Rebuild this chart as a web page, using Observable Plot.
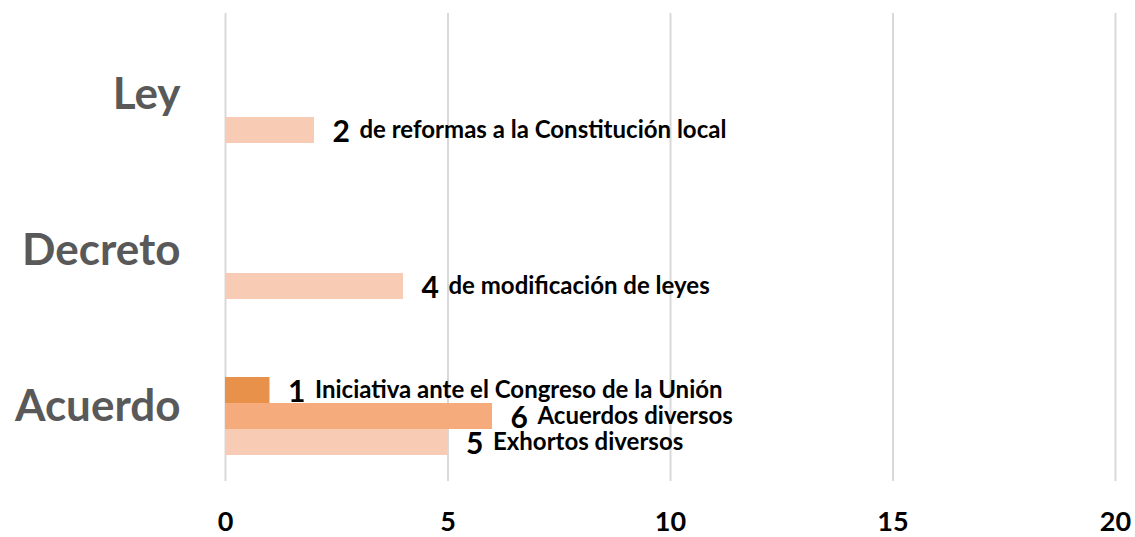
<!DOCTYPE html>
<html><head><meta charset="utf-8">
<script src="https://cdn.jsdelivr.net/npm/d3@7"></script>
<script src="https://cdn.jsdelivr.net/npm/@observablehq/plot@0.6"></script>
<style>body{margin:0;background:#fff}</style>
</head><body><div id="chart"></div>
<script>
const categories = ["Ley", "Decreto", "Acuerdo"];
const slots = ["s1", "s2", "s3", "s4"];
const barCategory = ["Ley", "Decreto", "Acuerdo", "Acuerdo", "Acuerdo"];
const barSlot = ["s4", "s4", "s2", "s3", "s4"];
const barValue = [2, 4, 1, 6, 5];
const barText = ["de reformas a la Constitución local", "de modificación de leyes", "Iniciativa ante el Congreso de la Unión", "Acuerdos diversos", "Exhortos diversos"];
const xTicks = [0, 5, 10, 15, 20];

const data = barValue.map((v, i) => ({category: barCategory[i], slot: barSlot[i], value: v, text: barText[i]}));

const chart = Plot.plot({
  width: 1135,
  height: 537,
  marginTop: 13,
  marginBottom: 56,
  marginLeft: 225,
  marginRight: 20,
  style: {fontFamily: "Lato, 'Open Sans', sans-serif", fontSize: "27px", fontWeight: "bold", color: "#000", background: "#fff"},
  x: {domain: [0, 20], ticks: xTicks, tickSize: 0, tickPadding: 30, label: null, tickFormat: d => String(d)},
  y: {domain: slots, paddingInner: 0, paddingOuter: 0.89, axis: null},
  fy: {domain: categories, padding: 0, axis: null, label: null},
  color: {domain: slots, range: ["#F8CBB4", "#E8914A", "#F6AB7D", "#F8CBB4"]},
  marks: [
    Plot.ruleX(xTicks, {x: d => d, stroke: "#d9d9d9", strokeWidth: 2}),
    Plot.barX(data, {x: "value", y: "slot", fy: "category", fill: "slot"}),
    Plot.text(data, {x: "value", y: "slot", fy: "category", text: d => String(d.value), textAnchor: "start", dx: 18, dy: 2, fontSize: 30, fontWeight: "bold", fill: "#000"}),
    Plot.text(data, {x: "value", y: "slot", fy: "category", text: "text", textAnchor: "start", dx: 45, fontSize: 24, fontWeight: "bold", fill: "#000"}),
    Plot.text(categories, {fy: d => d, text: d => d, frameAnchor: "left", textAnchor: "end", dx: -45, dy: 3, fontSize: 44, fontWeight: "bold", fill: "#595959"})
  ]
});
document.getElementById("chart").appendChild(chart);
</script>
</body></html>
